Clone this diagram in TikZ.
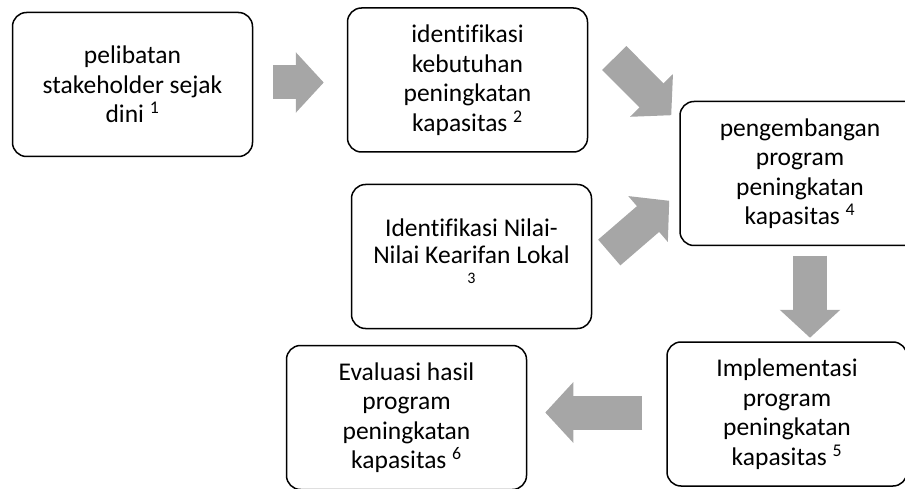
\documentclass[tikz,border=0pt]{standalone}
\usepackage{fontspec}
\setmainfont{Carlito}[Ligatures=NoCommon]
\usetikzlibrary{positioning,calc,arrows.meta}
\definecolor{arrowgray}{HTML}{A6A6A6}

\begin{document}
\begin{tikzpicture}[x=1pt, y=-1pt,
    box node/.style={draw, line width=1.5pt, rounded corners=14pt, align=flush center, text width=240pt, minimum height=144pt, inner sep=0pt, font=\fontsize{25.5pt}{29.5pt}\selectfont},
    arrow line/.style={draw=arrowgray, line width=34pt, -{Triangle[width=59pt,length=28pt]}}]
    \useasboundingbox (0,0) rectangle (905,489);
    \clip (0,0) rectangle (905,489);
    \node[box node] (1) at (132.5,84.5) {pelibatan\\stakeholder sejak\\dini \textsuperscript{1}};
    \node[box node] (2) [right=93.5pt of 1, yshift=4.5pt] {identifikasi\\kebutuhan\\peningkatan\\kapasitas \textsuperscript{2}};
    \node[box node, font=\fontsize{25.5pt}{27pt}\selectfont] (3) [below=31pt of 2, xshift=4pt] {Identifikasi Nilai-\\Nilai Kearifan Lokal\\[-7pt]{\fontsize{16pt}{16pt}\selectfont 3}\rule[-11pt]{0pt}{11pt}};
    \node[box node] (4) [right=91pt of 2, yshift=-93.5pt] {pengembangan\\program\\peningkatan\\kapasitas \textsuperscript{4}};
    \node[box node] (5) [below=95pt of 4, xshift=-13pt] {Implementasi\\program\\peningkatan\\kapasitas \textsuperscript{5}};
    \node[box node] (6) [left=139pt of 5, yshift=-3.5pt] {Evaluasi hasil\\program\\peningkatan\\kapasitas \textsuperscript{6}};
    % block arrows between the stages
    \draw[arrow line] ($(1.east)+(20,-2)$) -- ($(2.west)+(-23,2.5)$);
    \draw[arrow line] ($(2.east)+(26,-22)$) -- ($(4.north west)+(-8,14.5)$);
    \draw[arrow line] ($(3.east)+(17,-4)$) -- ($(4.south west)+(-10,-45.5)$);
    \draw[arrow line] ($(4.south)+(10,9.5)$) -- ($(5.north)+(23,-3.5)$);
    \draw[arrow line] ($(5.west)+(-24,-1.5)$) -- ($(6.east)+(18,-5)$);
\end{tikzpicture}
\end{document}
